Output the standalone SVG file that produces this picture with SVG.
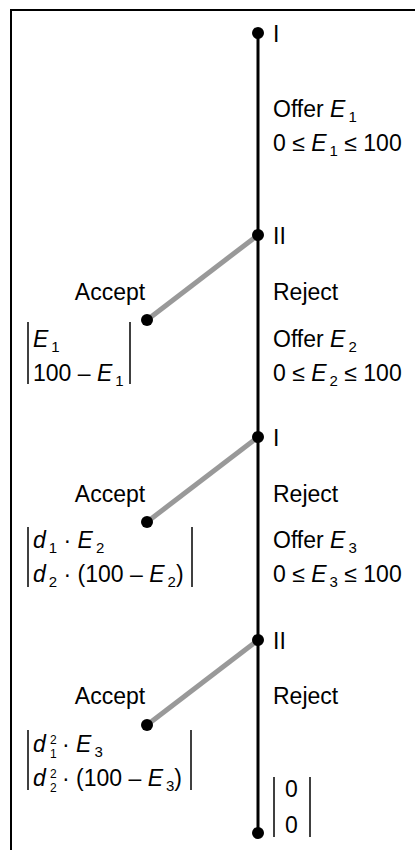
<svg xmlns="http://www.w3.org/2000/svg" width="415" height="850" viewBox="0 0 415 850">
<style>
text{font-family:"Liberation Sans",Arial,sans-serif;font-size:23px;fill:#000}
.i{font-style:italic}
.s{font-size:15px}
.ss{font-size:12px}
.trunk{stroke:#000;stroke-width:3;fill:none}
.acc{stroke:#999;stroke-width:5;fill:none}
.bar{stroke:#000;stroke-width:1.5}
.frame{stroke:#000;stroke-width:2;fill:none}
</style>
<rect class="frame" x="11" y="10" width="420" height="860"/>
<g id="connectors">
<line class="trunk" x1="258" y1="33" x2="258" y2="833"/>
<line class="acc" x1="258" y1="235" x2="147" y2="320"/>
<line class="acc" x1="258" y1="437" x2="147" y2="522"/>
<line class="acc" x1="258" y1="640" x2="147" y2="725"/>
<text x="273" y="117">Offer <tspan class="i">E</tspan><tspan class="s" dx="3" dy="5">1</tspan></text>
<text x="273" y="151">0 ≤ <tspan class="i">E</tspan><tspan class="s" dx="3" dy="5">1</tspan><tspan dy="-5"> ≤ 100</tspan></text>
<text x="110" y="300" text-anchor="middle">Accept</text>
<text x="273" y="300">Reject</text>
<text x="273" y="347">Offer <tspan class="i">E</tspan><tspan class="s" dx="3" dy="5">2</tspan></text>
<text x="273" y="381">0 ≤ <tspan class="i">E</tspan><tspan class="s" dx="3" dy="5">2</tspan><tspan dy="-5"> ≤ 100</tspan></text>
<text x="110" y="502" text-anchor="middle">Accept</text>
<text x="273" y="502">Reject</text>
<text x="273" y="548">Offer <tspan class="i">E</tspan><tspan class="s" dx="3" dy="5">3</tspan></text>
<text x="273" y="582">0 ≤ <tspan class="i">E</tspan><tspan class="s" dx="3" dy="5">3</tspan><tspan dy="-5"> ≤ 100</tspan></text>
<text x="110" y="704" text-anchor="middle">Accept</text>
<text x="273" y="704">Reject</text>
</g>
<g id="n1">
<circle cx="258" cy="33" r="6"/>
<text x="273" y="42">I</text>
</g>
<g id="n2">
<circle cx="258" cy="235" r="6"/>
<text x="273" y="244">II</text>
</g>
<g id="n3">
<circle cx="258" cy="437" r="6"/>
<text x="273" y="446">I</text>
</g>
<g id="n4">
<circle cx="258" cy="640" r="6"/>
<text x="273" y="649">II</text>
</g>
<g id="t1">
<circle cx="147" cy="320" r="6"/>
<line class="bar" x1="28" y1="322" x2="28" y2="384"/>
<line class="bar" x1="130" y1="322" x2="130" y2="384"/>
<text x="33" y="347"><tspan class="i">E</tspan><tspan class="s" dx="3" dy="5">1</tspan></text>
<text x="33" y="381">100 – <tspan class="i">E</tspan><tspan class="s" dx="3" dy="5">1</tspan></text>
</g>
<g id="t2">
<circle cx="147" cy="522" r="6"/>
<line class="bar" x1="28" y1="527" x2="28" y2="587"/>
<line class="bar" x1="192" y1="527" x2="192" y2="587"/>
<text x="33" y="548"><tspan class="i">d</tspan><tspan class="s" dx="3" dy="5">1</tspan><tspan dy="-5"> · </tspan><tspan class="i">E</tspan><tspan class="s" dx="3" dy="5">2</tspan></text>
<text x="33" y="582"><tspan class="i">d</tspan><tspan class="s" dx="3" dy="5">2</tspan><tspan dy="-5"> · (100 – </tspan><tspan class="i">E</tspan><tspan class="s" dx="3" dy="5">2</tspan><tspan dy="-5">)</tspan></text>
</g>
<g id="t3">
<circle cx="147" cy="725" r="6"/>
<line class="bar" x1="28" y1="730" x2="28" y2="790"/>
<line class="bar" x1="191" y1="730" x2="191" y2="790"/>
<text x="33" y="752"><tspan class="i">d</tspan></text>
<text x="50" y="744" class="ss">2</text>
<text x="50" y="758" class="ss">1</text>
<text x="62" y="752">· <tspan class="i">E</tspan><tspan class="s" dx="3" dy="5">3</tspan></text>
<text x="33" y="786"><tspan class="i">d</tspan></text>
<text x="50" y="778" class="ss">2</text>
<text x="50" y="792" class="ss">2</text>
<text x="62" y="786">· (100 – <tspan class="i">E</tspan><tspan class="s" dx="3" dy="5">3</tspan><tspan dy="-5">)</tspan></text>
</g>
<g id="t4">
<circle cx="258" cy="833" r="6"/>
<line class="bar" x1="274" y1="777" x2="274" y2="837"/>
<line class="bar" x1="310" y1="777" x2="310" y2="837"/>
<text x="285" y="797">0</text>
<text x="285" y="833">0</text>
</g>
</svg>
